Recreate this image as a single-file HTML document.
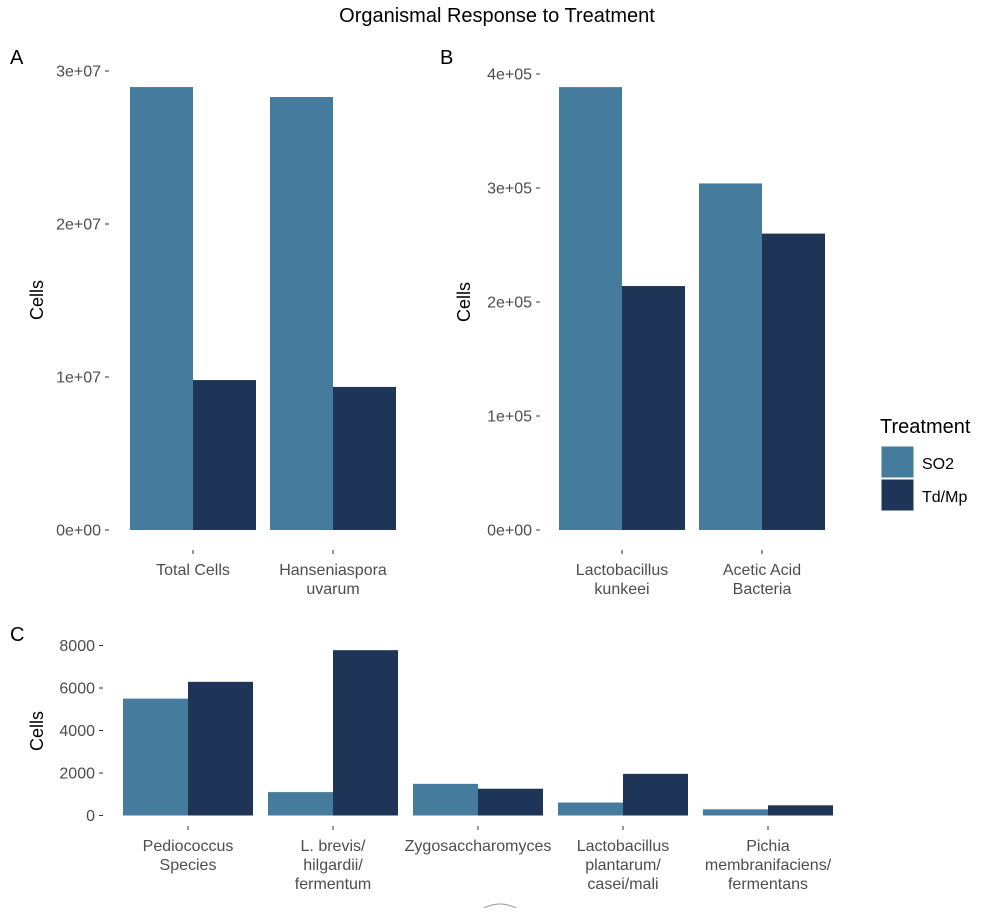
<!DOCTYPE html>
<html><head><meta charset="utf-8"><style>
body{margin:0;background:#fff;width:990px;height:908px;overflow:hidden;font-family:"Liberation Sans",sans-serif}
svg text{font-family:"Liberation Sans",sans-serif}
</style></head><body>
<svg id="chart" width="990" height="908" xmlns="http://www.w3.org/2000/svg">
<text x="497" y="22" text-anchor="middle" font-size="20" fill="#000">Organismal Response to Treatment</text>
<text x="10" y="64" font-size="20" fill="#000">A</text>
<text x="440" y="64" font-size="20" fill="#000">B</text>
<text x="10" y="641" font-size="20" fill="#000">C</text>
<g>
<text x="880" y="433" font-size="20" fill="#000">Treatment</text>
<rect x="881" y="446" width="33" height="32" fill="#457b9d" stroke="#fff"/>
<text x="922" y="469" font-size="16" fill="#000">SO2</text>
<rect x="881" y="479" width="33" height="32" fill="#1f3557" stroke="#fff"/>
<text x="922" y="502" font-size="16" fill="#000">Td/Mp</text>
</g>
<path d="M484 908 Q500 900 516 908" fill="none" stroke="#999" stroke-width="1"/>
</svg>
<script>
const NS="http://www.w3.org/2000/svg";
const svg=document.getElementById('chart');
const SO2="#457b9d", TD="#1f3557";
// Panel A data
const catsA=[["Total Cells"],["Hanseniaspora","uvarum"]];
const so2A=[28950000,28300000];
const tdA=[9800000,9350000];
const ticksA=[0,10000000,20000000,30000000];
const tickLabA=["0e+00","1e+07","2e+07","3e+07"];
// Panel B data
const catsB=[["Lactobacillus","kunkeei"],["Acetic Acid","Bacteria"]];
const so2B=[388500,304000];
const tdB=[214000,260000];
const ticksB=[0,100000,200000,300000,400000];
const tickLabB=["0e+00","1e+05","2e+05","3e+05","4e+05"];
// Panel C data
const catsC=[["Pediococcus","Species"],["L. brevis/","hilgardii/","fermentum"],["Zygosaccharomyces"],["Lactobacillus","plantarum/","casei/mali"],["Pichia","membranifaciens/","fermentans"]];
const so2C=[5500,1100,1490,610,290];
const tdC=[6290,7780,1260,1960,480];
const ticksC=[0,2000,4000,6000,8000];
const tickLabC=["0","2000","4000","6000","8000"];

function el(tag,attrs){const e=document.createElementNS(NS,tag);for(const k in attrs)e.setAttribute(k,attrs[k]);svg.appendChild(e);return e;}

function panel(id,cats,s1,s2,ticks,labs,cfg){
  const y=v=>cfg.y0-(v-ticks[0])/(cfg.vmax)*(cfg.y0-cfg.yTop);
  const x=i=>cfg.c0+i*cfg.step;
  ticks.forEach((t,i)=>{
    const ty=y(t);
    const tl=el('text',{x:cfg.axX-8,y:ty+5.5,'text-anchor':'end','font-size':16,fill:'#4d4d4d'});
    
    
    tl.textContent=labs[i];
    const tk=el('line',{x1:cfg.axX-4,x2:cfg.axX,y1:ty,y2:ty,stroke:'#333','stroke-width':1});
    
    
  });
  cats.forEach((c,i)=>{
    const cx=x(i);
    const r1=el('rect',{x:cx-cfg.hw,y:y(s1[i]),width:cfg.hw,height:cfg.y0-y(s1[i]),fill:SO2});
    
    
    const r2=el('rect',{x:cx,y:y(s2[i]),width:cfg.hw,height:cfg.y0-y(s2[i]),fill:TD});
    
    
    const tk=el('line',{x1:cx,x2:cx,y1:cfg.tickY,y2:cfg.tickY+4,stroke:'#333','stroke-width':1});
    
    
    const t=el('text',{x:cx,'text-anchor':'middle','font-size':16,fill:'#4d4d4d'});
    
    
    c.forEach((ln,j)=>{const ts=document.createElementNS(NS,'tspan');ts.setAttribute('x',cx);ts.setAttribute('y',cfg.tickY+25+j*19);ts.textContent=ln;t.appendChild(ts);});
  });
  const yt=el('text',{x:0,y:0,'text-anchor':'middle','font-size':18,fill:'#000',transform:`translate(${cfg.titleX},${cfg.titleY}) rotate(-90)`});
  
  
  yt.textContent='Cells';
}
panel('panel-a',catsA,so2A,tdA,ticksA,tickLabA,{y0:530,yTop:71,vmax:30000000,axX:109,c0:193,step:140,hw:63,tickY:550,titleX:43,titleY:300});
panel('panel-b',catsB,so2B,tdB,ticksB,tickLabB,{y0:530,yTop:74,vmax:400000,axX:540,c0:622,step:140,hw:63,tickY:550,titleX:470,titleY:302});
panel('panel-c',catsC,so2C,tdC,ticksC,tickLabC,{y0:815.5,yTop:645.5,vmax:8000,axX:103,c0:188,step:145,hw:65,tickY:826,titleX:43,titleY:731});
</script>
</body></html>
